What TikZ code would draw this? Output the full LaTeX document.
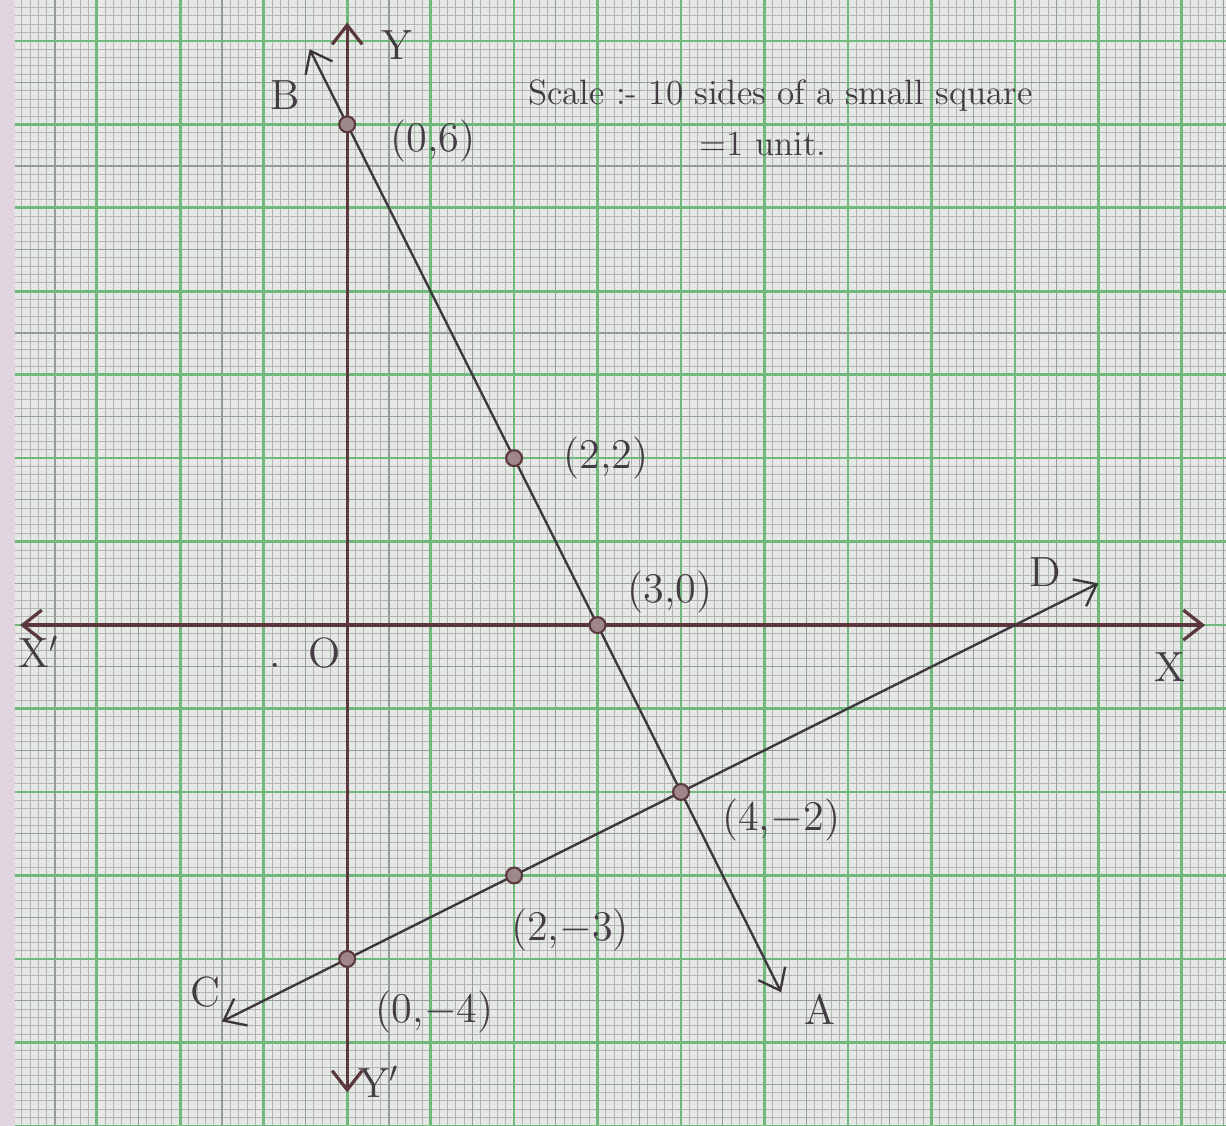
\documentclass[tikz,border=0pt]{standalone}
\usepackage{amsmath}
\usetikzlibrary{arrows.meta}

\definecolor{paper}{RGB}{230,232,230}
\definecolor{edge}{RGB}{226,212,222}
\definecolor{finegrid}{RGB}{178,182,179}
\definecolor{midgrid}{RGB}{150,156,152}
\definecolor{boldgrid}{RGB}{112,184,124}
\definecolor{axisbrown}{RGB}{92,55,60}
\definecolor{pencil}{RGB}{68,60,68}

\begin{document}
\begin{tikzpicture}[
    axisline/.style={line width=1.1pt, color=axisbrown,
        {Straight Barb[length=2.3mm,width=3.6mm]}-{Straight Barb[length=2.3mm,width=3.6mm]}},
    graphline/.style={line width=0.8pt, color=pencil!90!black,
        {Straight Barb[length=2.3mm,width=3.6mm]}-{Straight Barb[length=2.3mm,width=3.6mm]}},
    pt/.style={circle, draw=axisbrown, fill=axisbrown!60, line width=0.7pt,
        minimum size=1.9mm, inner sep=0pt},
    lbl/.style={text=pencil, font=\Large}
]

    % graph paper
    \useasboundingbox (-4.16,-6.0) rectangle (10.53,7.49);
    \fill[paper] (-4.16,-6.0) rectangle (10.53,7.49);
    \fill[edge] (-4.16,-6.0) rectangle (-3.98,7.49);
    \draw[finegrid, line width=0.3pt, step=0.1] (-3.98,-6.0) grid (10.53,7.49);
    \draw[midgrid, line width=0.4pt, step=0.5] (-3.98,-6.0) grid (10.53,7.49);
    \draw[boldgrid, line width=0.9pt, step=1] (-3.98,-6.0) grid (10.53,7.49);

    % axes
    \coordinate (xl) at (-3.92,0);
    \coordinate (xr) at (10.28,0);
    \coordinate (yt) at (0,7.22);
    \coordinate (yb) at (0,-5.6);
    \draw[axisline] (xl) -- (xr);
    \draw[axisline] (yb) -- (yt);

    \node[lbl] (xlabel) at (9.86,-0.5) {X};
    \node[lbl] (xdash) at (-3.7,-0.32) {X$'$};
    \node[lbl] (ylabel) at (0.6,6.95) {Y};
    \node[lbl] (ydash) at (0.38,-5.47) {Y$'$};
    \node[lbl] (origin) at (-0.5,-0.33) {.\ \ O};

    % the two lines
    \coordinate (B) at (-0.45,6.9);
    \coordinate (A) at (5.2,-4.4);
    \coordinate (C) at (-1.5,-4.75);
    \coordinate (D) at (9.0,0.5);
    \draw[graphline] (A) -- (B);
    \draw[graphline] (C) -- (D);

    \node[lbl] (Blabel) at (-0.74,6.35) {B};
    \node[lbl] (Alabel) at (5.66,-4.6) {A};
    \node[lbl] (Clabel) at (-1.7,-4.4) {C};
    \node[lbl] (Dlabel) at (8.36,0.63) {D};

    % plotted points
    \node[pt] (p06) at (0,6) {};
    \node[pt] (p22) at (2,2) {};
    \node[pt] (p30) at (3,0) {};
    \node[pt] (p4m2) at (4,-2) {};
    \node[pt] (p2m3) at (2,-3) {};
    \node[pt] (p0m4) at (0,-4) {};

    \node[lbl] at (1.03,5.8) {(0,6)};
    \node[lbl] at (3.1,2.0) {(2,2)};
    \node[lbl] at (3.87,0.4) {(3,0)};
    \node[lbl] at (5.2,-2.34) {(4,$-$2)};
    \node[lbl] at (2.67,-3.65) {(2,$-$3)};
    \node[lbl] at (1.05,-4.63) {(0,$-$4)};

    % scale
    \node[lbl, font=\large] (scale) at (5.19,6.35) {Scale :- 10 sides of a small square};
    \node[lbl, font=\large] (unit) at (4.98,5.77) {=1 unit.};

\end{tikzpicture}
\end{document}
